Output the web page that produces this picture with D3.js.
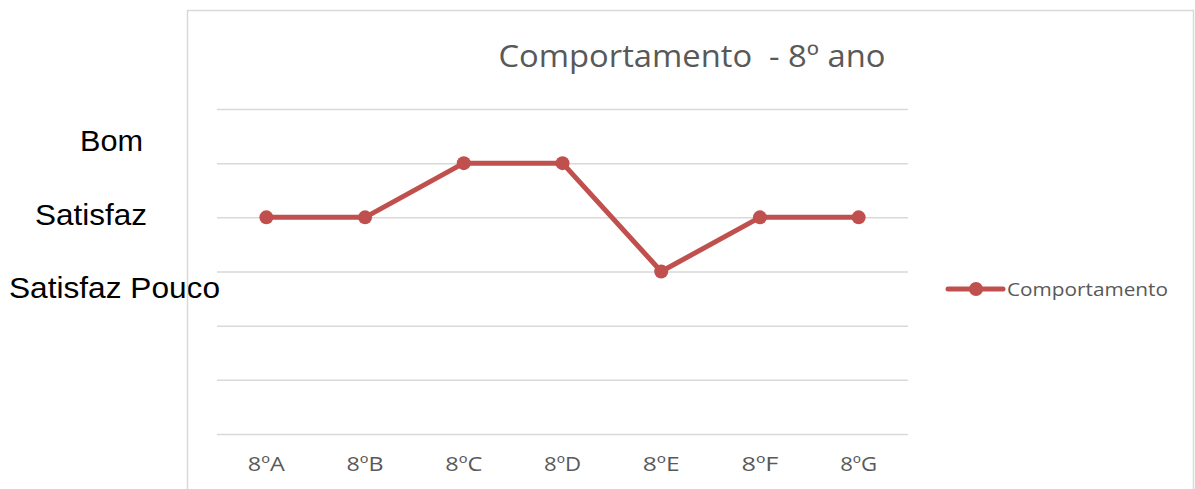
<!DOCTYPE html>
<html>
<head>
<meta charset="utf-8">
<script src="https://cdn.jsdelivr.net/npm/d3@7"></script>
<style>
  html, body { margin: 0; padding: 0; background: #ffffff; }
  svg { display: block; }
  text { white-space: pre; }
</style>
</head>
<body>
<svg id="chart" width="1195" height="489"></svg>
<script>
// Turmas do 8º ano e nível de comportamento (escala 0–6)
const categories = ["8ºA", "8ºB", "8ºC", "8ºD", "8ºE", "8ºF", "8ºG"];
const comportamento = [4, 4, 5, 5, 3, 4, 4];
const yTicks = [0, 1, 2, 3, 4, 5, 6];
const levelLabels = ["Bom", "Satisfaz", "Satisfaz Pouco"];
const seriesName = "Comportamento";
const titleText = "Comportamento  - 8º ano";

const svg = d3.select("#chart");
const red = "#c0504d";
const grey = "#595959";
const gridColor = "#d9d9d9";
const uiFont = "'Open Sans', sans-serif";

const x = d3.scaleBand().domain(categories).range([217, 908]).padding(0);
const y = d3.scaleLinear().domain([0, 6]).range([434, 109]);

// level labels beside the chart
const levelPos = [[80, 151, 63], [35, 225, 112], [9, 298, 211]];
svg.append("g").selectAll("text")
  .data(levelLabels)
  .join("text")
  .attr("x", (d, i) => levelPos[i][0])
  .attr("y", (d, i) => levelPos[i][1])
  .attr("textLength", (d, i) => levelPos[i][2])
  .attr("lengthAdjust", "spacingAndGlyphs")
  .attr("fill", "#000000")
  .attr("font-family", "'Liberation Sans', Arial, sans-serif")
  .attr("font-size", 29)
  .text(d => d);

// chart area frame
svg.append("rect")
  .attr("x", 187.5).attr("y", 10.5)
  .attr("width", 1006).attr("height", 500)
  .attr("fill", "none")
  .attr("stroke", gridColor).attr("stroke-width", 1.5);

// horizontal gridlines
svg.append("g")
  .attr("transform", "translate(217,0)")
  .call(d3.axisLeft(y).tickValues(yTicks).tickSize(-(908 - 217)).tickFormat(""))
  .call(g => g.select(".domain").remove())
  .call(g => g.selectAll(".tick line").attr("stroke", gridColor).attr("stroke-width", 1.5));

// category axis
svg.append("g")
  .attr("transform", `translate(0,${y(0)})`)
  .call(d3.axisBottom(x).tickSize(0).tickPadding(23))
  .call(g => g.select(".domain").remove())
  .call(g => g.selectAll(".tick text")
    .attr("fill", grey)
    .attr("font-family", uiFont)
    .attr("font-size", 19.5)
    .attr("textLength", 37)
    .attr("lengthAdjust", "spacingAndGlyphs"));

// title
svg.append("text")
  .attr("x", 692).attr("y", 67)
  .attr("text-anchor", "middle")
  .attr("fill", grey)
  .attr("font-family", uiFont)
  .attr("font-size", 31)
  .attr("textLength", 387)
  .attr("lengthAdjust", "spacingAndGlyphs")
  .text(titleText);

// line series
const pts = categories.map((c, i) => [x(c) + x.bandwidth() / 2, y(comportamento[i])]);
svg.append("path")
  .attr("d", d3.line()(pts))
  .attr("fill", "none")
  .attr("stroke", red)
  .attr("stroke-width", 5)
  .attr("stroke-linejoin", "round");

svg.append("g").selectAll("circle")
  .data(pts)
  .join("circle")
  .attr("cx", d => d[0]).attr("cy", d => d[1])
  .attr("r", 7)
  .attr("fill", red);

// legend
const lg = svg.append("g").attr("transform", "translate(948,289)");
lg.append("line").attr("x1", 0).attr("x2", 55).attr("y1", 0).attr("y2", 0)
  .attr("stroke", red).attr("stroke-width", 5).attr("stroke-linecap", "round");
lg.append("circle").attr("cx", 28).attr("cy", 0).attr("r", 7).attr("fill", red);
lg.append("text").attr("x", 59).attr("y", 7)
  .attr("fill", grey)
  .attr("font-family", uiFont)
  .attr("font-size", 19)
  .attr("textLength", 161)
  .attr("lengthAdjust", "spacingAndGlyphs")
  .text(seriesName);
</script>
</body>
</html>
